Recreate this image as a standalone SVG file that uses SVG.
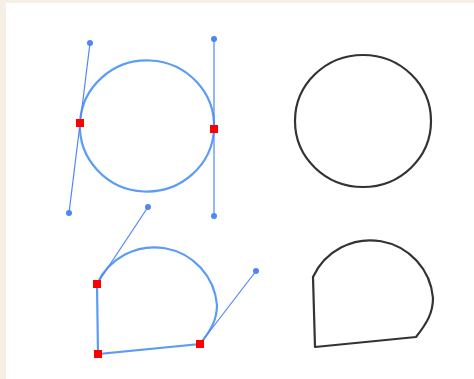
<svg xmlns="http://www.w3.org/2000/svg" width="474" height="379" viewBox="0 0 474 379">
<style>
.curve{fill:none;stroke:#5b9cf6;stroke-width:2.2}
.handle{fill:none;stroke:#4f86f7;stroke-width:1.2}
.dot{fill:#4f86f7}
.anchor{fill:#ff0000}
.out{fill:none;stroke:#333333;stroke-width:2.2;stroke-linejoin:round}
</style>
<rect x="0" y="0" width="474" height="379" fill="#f6efe3"/>
<rect x="6" y="3" width="468" height="376" fill="#ffffff"/>
<g id="edit-circle">
<path class="curve" d="M80,123 A67,65.5 0 0 1 214,129 A67,65.5 0 0 1 80,123 Z"/>
<g id="circle-handles">
<line class="handle" x1="90" y1="43" x2="69" y2="213"/>
<line class="handle" x1="214" y1="39" x2="214" y2="216"/>
<circle class="dot" cx="90" cy="43" r="3"/>
<circle class="dot" cx="69" cy="213" r="3"/>
<circle class="dot" cx="214" cy="39" r="3"/>
<circle class="dot" cx="214" cy="216" r="3"/>
</g>
<rect class="anchor" x="76" y="119" width="8" height="8"/>
<rect class="anchor" x="210" y="125" width="8" height="8"/>
</g>
<g id="edit-drop">
<path class="curve" d="M97,284 A63,63 0 0 1 217,305 C217,320 211,330 200,344 L98,354 Z"/>
<g id="drop-handles">
<line class="handle" x1="97" y1="284" x2="148" y2="207"/>
<line class="handle" x1="200" y1="344" x2="256" y2="271"/>
<circle class="dot" cx="148" cy="207" r="3"/>
<circle class="dot" cx="256" cy="271" r="3"/>
</g>
<rect class="anchor" x="93" y="280" width="8" height="8"/>
<rect class="anchor" x="94" y="350" width="8" height="8"/>
<rect class="anchor" x="196" y="340" width="8" height="8"/>
</g>
<g id="result-circle">
<ellipse class="out" cx="363" cy="121" rx="68" ry="66"/>
</g>
<g id="result-drop">
<path class="out" d="M313,277 A63,63 0 0 1 433,298 C433,313 427,323 416,337 L315,347 Z"/>
</g>
</svg>
